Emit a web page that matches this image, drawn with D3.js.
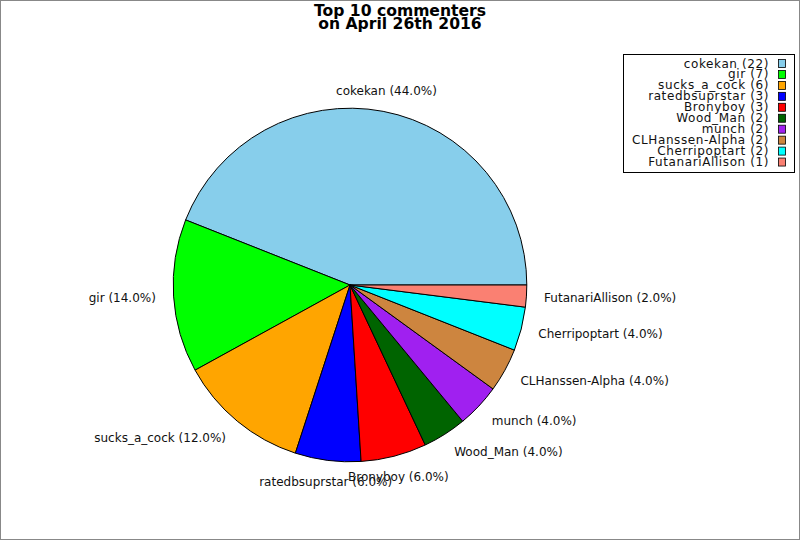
<!DOCTYPE html>
<html>
<head>
<meta charset="utf-8">
<script src="https://cdn.jsdelivr.net/npm/d3@7"></script>
<style>
  body { margin: 0; background: #fff; }
  svg { display: block; font-family: "DejaVu Sans", sans-serif; }
</style>
</head>
<body>
<div id="chart"></div>
<script>
const names = ["cokekan", "gir", "sucks_a_cock", "ratedbsuprstar", "Bronyboy",
    "Wood_Man", "munch", "CLHanssen-Alpha", "Cherripoptart", "FutanariAllison"];
const counts = [22, 7, 6, 3, 3, 2, 2, 2, 2, 1];
const colors = ["#87CEEB", "#00FF00", "#FFA500", "#0000FF", "#FF0000",
    "#006400", "#A020F0", "#CD853F", "#00FFFF", "#FA8072"];
const titleLines = ["Top 10 commenters", "on April 26th 2016"];

const width = 800, height = 540;
const cx = 350, cy = 285, radius = 176.8;

const data = names.map((n, i) => ({ name: n, count: counts[i], color: colors[i] }));
const total = d3.sum(counts);

const svg = d3.select("#chart")
    .append("svg")
    .attr("width", width)
    .attr("height", height);

// frame
svg.append("rect")
    .attr("x", 0.5).attr("y", 0.5)
    .attr("width", width - 1).attr("height", height - 1)
    .attr("fill", "#fff")
    .attr("stroke", "#888");

// title
svg.append("g")
    .selectAll("text")
    .data(titleLines)
    .enter()
    .append("text")
    .attr("x", 400)
    .attr("y", (d, i) => 15.5 + i * 13.8)
    .attr("text-anchor", "middle")
    .style("font-size", "15.6px")
    .style("font-weight", "bold")
    .text(d => d);

// pie starts at 3 o'clock and runs counterclockwise
const pie = d3.pie()
    .value(d => d.count)
    .sort(null)
    .startAngle(Math.PI / 2)
    .endAngle(Math.PI / 2 - 2 * Math.PI);

const arc = d3.arc().innerRadius(0).outerRadius(radius);
const arcs = pie(data);

const g = svg.append("g").attr("transform", `translate(${cx},${cy})`);

g.selectAll("path")
    .data(arcs)
    .enter()
    .append("path")
    .attr("d", arc)
    .attr("fill", d => d.data.color)
    .attr("stroke", "#000")
    .attr("stroke-width", 1)
    .attr("stroke-linejoin", "round");

// slice labels
const labelDist = radius * 1.1;
g.selectAll("text.slice-label")
    .data(arcs)
    .enter()
    .append("text")
    .attr("class", "slice-label")
    .each(function (d) {
        const a = (d.startAngle + d.endAngle) / 2;
        const sx = Math.sin(a), cyA = Math.cos(a);
        const anchor = Math.abs(sx) < 0.4 ? "middle" : (sx > 0 ? "start" : "end");
        d3.select(this)
            .attr("x", labelDist * sx)
            .attr("y", -labelDist * cyA - 3.5 * cyA)
            .attr("dy", "0.35em")
            .attr("text-anchor", anchor);
    })
    .style("font-size", "12px")
    .style("fill", "#111")
    .text(d => `${d.data.name} (${(d.data.count / total * 100).toFixed(1)}%)`);

// legend
const legend = svg.append("g");
legend.append("rect")
    .attr("x", 623.5).attr("y", 54.5)
    .attr("width", 171).attr("height", 118)
    .attr("fill", "#fff")
    .attr("stroke", "#000");

const rowY = i => 63.5 + i * 10.95;

legend.selectAll("rect.swatch")
    .data(data)
    .enter()
    .append("rect")
    .attr("class", "swatch")
    .attr("x", 778.5)
    .attr("y", (d, i) => rowY(i) - 4)
    .attr("width", 7)
    .attr("height", 8)
    .attr("fill", d => d.color)
    .attr("stroke", "#000")
    .attr("stroke-width", 0.8);

legend.selectAll("text")
    .data(data)
    .enter()
    .append("text")
    .attr("x", 769)
    .attr("y", (d, i) => rowY(i) + 4)
    .attr("text-anchor", "end")
    .style("font-size", "12px")
    .style("letter-spacing", "0.6px")
    .style("fill", "#111")
    .text(d => `${d.name} (${d.count})`);
</script>
</body>
</html>
